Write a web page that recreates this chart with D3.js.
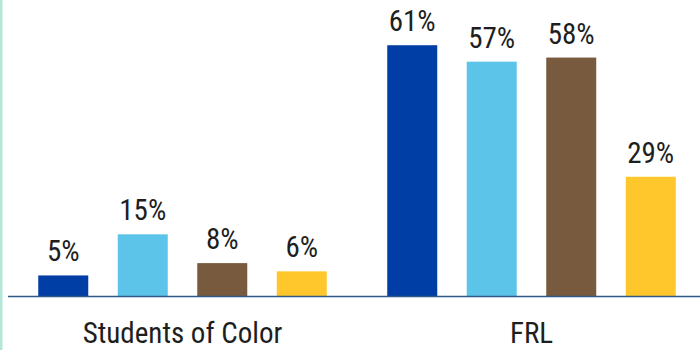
<!DOCTYPE html>
<html>
<head>
<meta charset="utf-8">
<script src="https://cdn.jsdelivr.net/npm/d3@7"></script>
<style>
  html, body { margin: 0; padding: 0; background: #fff; }
  svg { display: block; }
  text { font-family: "Liberation Sans Narrow", "Roboto Condensed", "Arial Narrow", sans-serif; fill: #1e1e1e; }
</style>
</head>
<body>
<div id="chart"></div>
<script>
// Share of students in each group, by series
const categories = ["Students of Color", "FRL"];
const series = ["s1", "s2", "s3", "s4"];
const seriesColors = ["#003da5", "#5bc4e8", "#785b3e", "#ffc72c"];
const valuesStudentsOfColor = [5, 15, 8, 6];
const valuesFRL = [61, 57, 58, 29];
const valueLabels = [["5%", "15%", "8%", "6%"], ["61%", "57%", "58%", "29%"]];

const data = categories.map((c, i) => ({
  category: c,
  values: [valuesStudentsOfColor, valuesFRL][i],
  labels: valueLabels[i]
}));

const W = 700, H = 350;
const baseY = 296;

const svg = d3.select("#chart").append("svg")
  .attr("width", W).attr("height", H);

// left accent rule
svg.append("rect").attr("x", 0).attr("y", 0).attr("width", 2.5).attr("height", H)
  .attr("fill", "#b5e6da");

const x0 = d3.scaleBand().domain(categories).range([8, 706])
  .paddingInner(0.1733).paddingOuter(0.0867);
const x1 = d3.scaleBand().domain(series).range([0, x0.bandwidth()])
  .paddingInner(0.371).paddingOuter(0);
const y = d3.scaleLinear().domain([0, 72]).range([baseY, 0]);

const groups = svg.selectAll("g.group").data(data).join("g")
  .attr("class", "group")
  .attr("transform", d => `translate(${x0(d.category)},0)`);

groups.selectAll("rect").data(d => d.values.map((v, i) => ({ v, i, label: d.labels[i] })))
  .join("rect")
  .attr("x", d => x1(series[d.i]))
  .attr("y", d => y(d.v))
  .attr("width", x1.bandwidth())
  .attr("height", d => baseY - y(d.v))
  .attr("fill", d => seriesColors[d.i]);

groups.selectAll("text.val").data(d => d.values.map((v, i) => ({ v, i, label: d.labels[i] })))
  .join("text")
  .attr("class", "val")
  .attr("x", d => x1(series[d.i]) + x1.bandwidth() / 2)
  .attr("y", d => y(d.v) - 14)
  .attr("text-anchor", "middle")
  .attr("font-size", 29)
  .text(d => d.label);

// baseline
svg.append("line").attr("x1", 8).attr("x2", W).attr("y1", baseY + 0.5).attr("y2", baseY + 0.5)
  .attr("stroke", "#2b5b86").attr("stroke-width", 1.6);

// category labels
const xAxis = d3.axisBottom(x0).tickSize(0).tickPadding(0);
const axisG = svg.append("g").attr("transform", `translate(0,${baseY})`).call(xAxis);
axisG.select(".domain").remove();
axisG.selectAll("text")
  .attr("dy", null)
  .attr("y", 47)
  .attr("font-size", 29)
  .attr("fill", "#1e1e1e")
  .style("font-family", "'Liberation Sans Narrow', 'Roboto Condensed', 'Arial Narrow', sans-serif");
</script>
</body>
</html>
